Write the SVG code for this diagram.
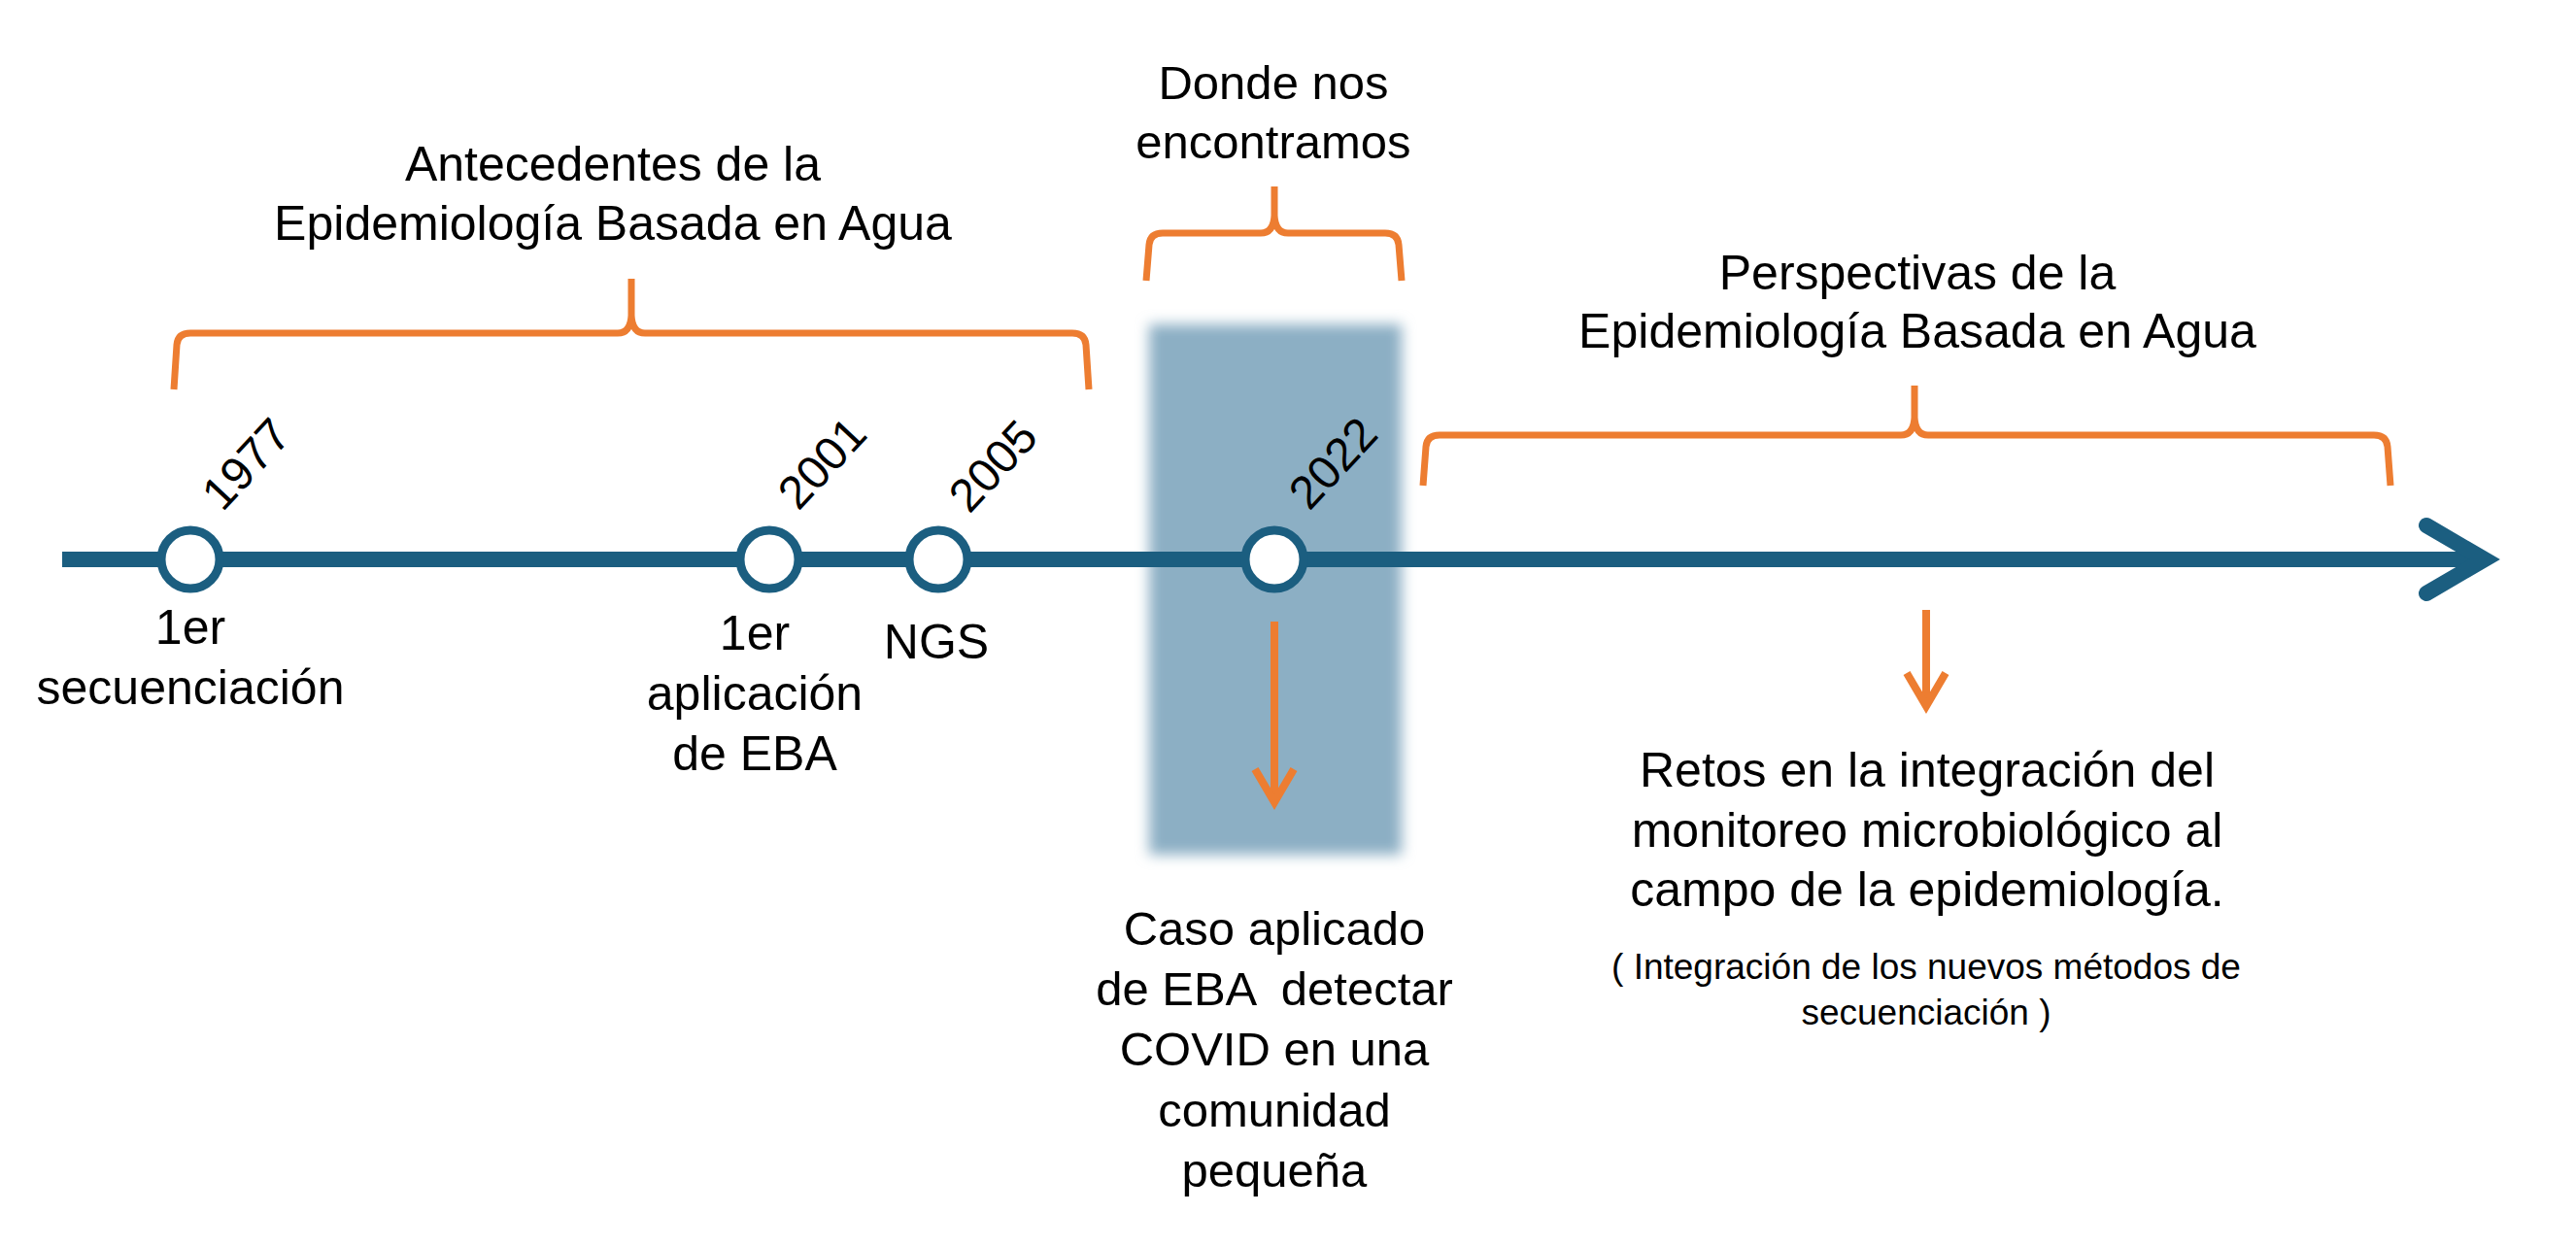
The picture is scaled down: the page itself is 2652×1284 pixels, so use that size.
<svg xmlns="http://www.w3.org/2000/svg" width="2652" height="1284" viewBox="0 0 2652 1284">
<style>
text{font-family:"Liberation Sans",Arial,sans-serif;fill:#000;}
.t{font-size:50px;text-anchor:middle;}
.a{font-size:49px;text-anchor:middle;}
.s{font-size:37px;text-anchor:middle;}
.yr{font-size:48px;}
.brace{fill:none;stroke:#ED7D31;stroke-width:7;stroke-linejoin:round;stroke-linecap:butt;}
.oarrow{fill:none;stroke:#ED7D31;stroke-width:8;marker-end:url(#ah);}
.dot{fill:#fff;stroke:#1B5E80;stroke-width:9;}
</style>
<defs>
<filter id="soft" x="-20%" y="-20%" width="140%" height="140%"><feGaussianBlur stdDeviation="7"/></filter>
<marker id="ah" markerUnits="userSpaceOnUse" markerWidth="80" markerHeight="80" viewBox="-40 -40 80 80" refX="0" refY="0" orient="auto" overflow="visible"><path d="M-34,-20 L0,0 L-34,20" fill="none" stroke="#ED7D31" stroke-width="8" stroke-linejoin="miter"/></marker>
</defs>
<rect width="2652" height="1284" fill="#fff"/>
<g id="present-band"><rect x="1183" y="334" width="260" height="546" fill="#8CAFC4" filter="url(#soft)"/></g>
<g id="connectors">
<line x1="64" y1="576" x2="2556" y2="576" stroke="#1B5E80" stroke-width="16"/>
<polyline points="2498,541 2558,576 2498,611" fill="none" stroke="#1B5E80" stroke-width="16" stroke-linecap="round" stroke-linejoin="miter"/>
<path class="brace" d="M179,401 L182,355 Q183,343 196,343 L636,343 Q649,343 650,325 L650,287 M650,287 L650,325 Q651,343 664,343 L1104,343 Q1117,343 1118,355 L1121,401"/>
<path class="brace" d="M1180,289 L1183,252 Q1184,240 1197,240 L1298,240 Q1311,240 1312,222 L1312,192 M1312,192 L1312,222 Q1313,240 1326,240 L1426,240 Q1439,240 1440,252 L1443,289"/>
<path class="brace" d="M1465,500 L1468,460 Q1469,448 1482,448 L1957,448 Q1970,448 1971,430 L1971,397 M1971,397 L1971,430 Q1972,448 1985,448 L2444,448 Q2457,448 2458,460 L2461,500"/>
<line class="oarrow" x1="1312" y1="640" x2="1312" y2="826"/>
<line class="oarrow" x1="1983" y1="628" x2="1983" y2="727"/>
</g>
<g id="title-antecedentes"><text class="t" x="631" y="186">Antecedentes de la</text><text class="t" x="631" y="247">Epidemiología Basada en Agua</text></g>
<g id="title-donde"><text class="a" x="1311" y="102">Donde nos</text><text class="a" x="1311" y="163">encontramos</text></g>
<g id="title-perspectivas"><text class="t" x="1974" y="298">Perspectivas de la</text><text class="t" x="1974" y="358">Epidemiología Basada en Agua</text></g>
<g id="event-1977"><circle class="dot" cx="196" cy="576" r="30"/><text class="yr" transform="translate(229,528) rotate(-47)">1977</text><text class="t" x="196" y="663">1er</text><text class="t" x="196" y="725">secuenciación</text></g>
<g id="event-2001"><circle class="dot" cx="792" cy="576" r="30"/><text class="yr" transform="translate(822,527) rotate(-47)">2001</text><text class="t" x="777" y="669">1er</text><text class="t" x="777" y="731">aplicación</text><text class="t" x="777" y="793">de EBA</text></g>
<g id="event-2005"><circle class="dot" cx="966" cy="576" r="30"/><text class="yr" transform="translate(998,530) rotate(-47)">2005</text><text class="t" x="964" y="678">NGS</text></g>
<g id="event-2022"><circle class="dot" cx="1312" cy="576" r="30"/><text class="yr" transform="translate(1348,527) rotate(-47)">2022</text></g>
<g id="caso-aplicado"><text class="a" x="1312" y="973">Caso aplicado</text><text class="a" x="1312" y="1035" xml:space="preserve">de EBA  detectar</text><text class="a" x="1312" y="1097">COVID en una</text><text class="a" x="1312" y="1160">comunidad</text><text class="a" x="1312" y="1222">pequeña</text></g>
<g id="retos"><text class="t" x="1984" y="810">Retos en la integración del</text><text class="t" x="1984" y="872">monitoreo microbiológico al</text><text class="t" x="1984" y="933">campo de la epidemiología.</text><text class="s" x="1983" y="1008">( Integración de los nuevos métodos de</text><text class="s" x="1983" y="1055">secuenciación )</text></g>
</svg>
